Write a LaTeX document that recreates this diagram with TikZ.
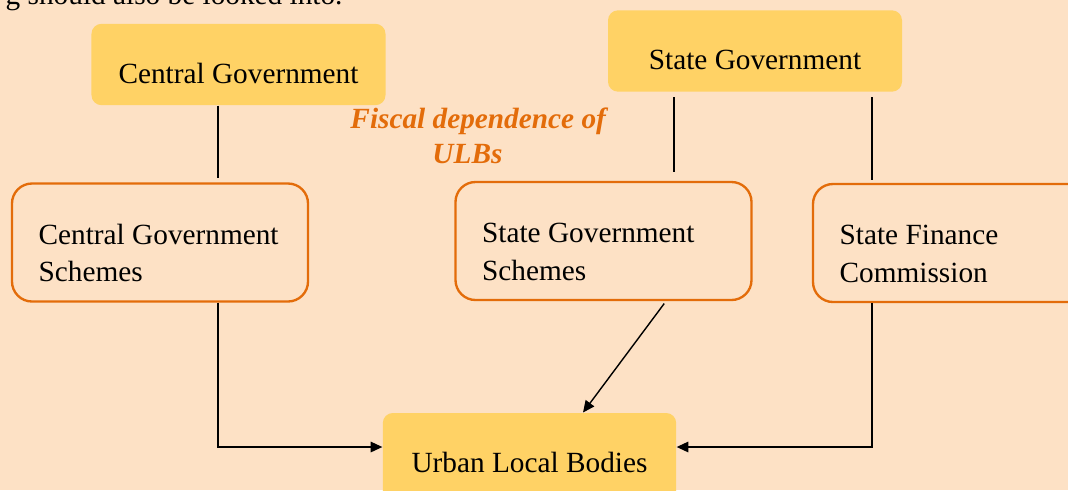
\documentclass[tikz,border=0pt]{standalone}
\usepackage{fontspec}
\setmainfont{Liberation Serif}
\usepackage{tikz}
\usetikzlibrary{arrows.meta,shapes}
\definecolor{peachbg}{HTML}{FDE1C5}
\definecolor{govyellow}{HTML}{FFD265}
\definecolor{darkorange}{HTML}{E36C0A}
\newcommand{\upstrut}{\rule{0pt}{20.5pt}}
\newcommand{\dnstrut}{\rule[-3pt]{0pt}{3pt}}

\begin{document}
\begin{tikzpicture}[x=0.015cm,y=-0.015cm,>={Triangle[length=5pt,width=4.5pt]},
every node/.style={font=\fontsize{12.5}{16.2}\selectfont},
govbox/.style={fill=govyellow,rounded corners=0.15cm,minimum width=4.41cm,minimum height=1.22cm,text height=19pt,text depth=3pt,inner sep=0pt},
schemebox/.style={draw=darkorange,line width=1pt,rounded corners=0.3cm,minimum width=4.44cm,minimum height=1.77cm,text width=3.64cm,inner xsep=0.4cm,align=flush left},
link/.style={line width=0.6pt}]
\useasboundingbox(0,0)rectangle(1068,490);
\clip(0,0)rectangle(1068,490);
\fill[peachbg](0,0)rectangle(1068,490);
% cut-off line of the page text
\node[anchor=base east,inner sep=0pt](pagetext)at(343,4){g should also be looked into.};
% governments
\node[govbox](CG)at(238.5,64.5){Central Government};
\node[govbox](SG)at(755,51){State Government};
\node[govbox,minimum width=4.4cm,minimum height=1.5cm,text height=11.5pt](ULB)at(529.5,463){Urban Local Bodies};
% schemes and commission
\node[schemebox](CGS)at(160,242.5){\upstrut Central~Government\\Schemes\dnstrut};
\node[schemebox](SGS)at(603.5,241){\upstrut State~Government\\Schemes\dnstrut};
\node[schemebox](SFC)at(961,243){\upstrut State~Finance\\Commission\dnstrut};
% caption
\node[anchor=north west,inner sep=0pt,align=flush left,text=darkorange,font=\fontsize{12.5}{14.9}\selectfont\bfseries\itshape](fiscal)at(350,104.5){\rule{0pt}{10pt}Fiscal dependence of\\\hspace*{35pt}ULBs};
% connectors
\coordinate(cgline)at(218,0);
\coordinate(sgline)at(674,0);
\coordinate(sfcline)at(872,0);
\coordinate(diagtop)at(666,0);
\coordinate(diagend)at(583,0);
\coordinate(ulby)at(0,447);
\draw[link,shorten >=0.06cm](CG.south -| cgline)--(CGS.north -| cgline);
\draw[link,shorten <=0.075cm,shorten >=0.135cm](SG.south -| sgline)--(SGS.north -| sgline);
\draw[link,shorten <=0.075cm,shorten >=0.045cm](SG.south -| sfcline)--(SFC.north -| sfcline);
\draw[link,->](CGS.south -| cgline)|-(ULB.west |- ulby);
\draw[link,->](SFC.south -| sfcline)|-(ULB.east |- ulby);
\draw[link,->,shorten <=0.045cm](SGS.south -| diagtop)--(ULB.north -| diagend);
\end{tikzpicture}
\end{document}
